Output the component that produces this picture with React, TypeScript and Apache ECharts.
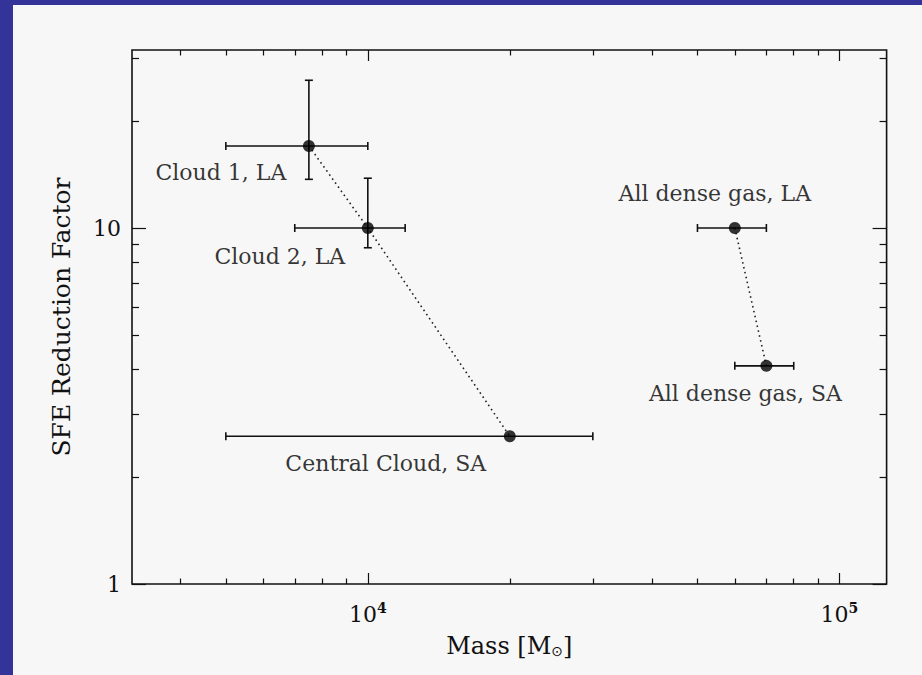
import React, { useEffect, useRef } from "react";
import * as echarts from "echarts";

// ---- data ----
const pointNames = [
  "Cloud 1, LA",
  "Cloud 2, LA",
  "Central Cloud, SA",
  "All dense gas, LA",
  "All dense gas, SA",
];
const massValues = [7500, 10000, 20000, 60000, 70000];
const sfeValues = [17, 10, 2.6, 10, 4.1];
const massLow = [5000, 7000, 5000, 50000, 60000];
const massHigh = [10000, 12000, 30000, 70000, 80000];
const sfeLow: (number | null)[] = [13.7, 8.8, null, null, null];
const sfeHigh: (number | null)[] = [26, 13.8, null, null, null];
const trackClouds = [0, 1, 2];
const trackDense = [3, 4];

const xMin = Math.pow(10, 3.5);
const xMax = Math.pow(10, 5.1);
const yMin = 1;
const yMax = Math.pow(10, 1.5);
const xMajorTicks = [1e4, 1e5];
const xMinorTicks = [4000, 5000, 6000, 7000, 8000, 9000, 20000, 30000, 40000, 50000, 60000, 70000, 80000, 90000];
const yMajorTicks = [1, 10];
const yMinorTicks = [2, 3, 4, 5, 6, 7, 8, 9, 20, 30];

// ---- styling (label placement relative to each point) ----
const labelOffsets = [
  [-88, 27],
  [-88, 28],
  [-124, 27],
  [-20, -35],
  [-21, 28],
];

const INK = "#111";
const FONT = "DejaVu Serif";

function xAxisDef(position: "top" | "bottom", ticks: number[], len: number, labels: boolean, name?: string) {
  return {
    type: "log",
    logBase: 10,
    min: xMin,
    max: xMax,
    position,
    gridIndex: 0,
    axisLine: { show: false },
    splitLine: { show: false },
    minorTick: { show: false },
    axisTick: { show: true, inside: true, length: len, customValues: ticks, lineStyle: { color: INK, width: 1.2 } },
    axisLabel: labels
      ? {
          show: true,
          customValues: ticks,
          margin: 17,
          color: INK,
          fontFamily: FONT,
          formatter: (v: number) => `{b|10}{sup|${Math.round(Math.log10(v))}}`,
          rich: {
            b: { fontSize: 22, fontFamily: FONT, color: INK, lineHeight: 24, verticalAlign: "bottom" },
            sup: { fontSize: 14, fontFamily: FONT, color: INK, lineHeight: 14, verticalAlign: "top", fontWeight: "bold" },
          },
        }
      : { show: false },
    name: name || "",
    nameLocation: "middle",
    nameGap: 50,
    nameTextStyle: {
      fontSize: 24,
      fontFamily: FONT,
      color: INK,
      rich: {
        sub: { fontSize: 14, fontFamily: "DejaVu Sans", color: INK, verticalAlign: "bottom", padding: [8, 0, 0, 0] },
      },
    },
  };
}

function yAxisDef(position: "left" | "right", ticks: number[], len: number, labels: boolean, name?: string) {
  return {
    type: "log",
    logBase: 10,
    min: yMin,
    max: yMax,
    position,
    gridIndex: 0,
    axisLine: { show: false },
    splitLine: { show: false },
    minorTick: { show: false },
    axisTick: { show: true, inside: true, length: len, customValues: ticks, lineStyle: { color: INK, width: 1.2 } },
    axisLabel: labels
      ? {
          show: true,
          customValues: ticks,
          margin: 11,
          color: INK,
          fontSize: 22,
          fontFamily: FONT,
          formatter: (v: number) => String(Math.round(v)),
        }
      : { show: false },
    name: name || "",
    nameLocation: "middle",
    nameRotate: 90,
    nameGap: 58,
    nameTextStyle: { fontSize: 25, fontFamily: FONT, color: INK },
  };
}

function buildOption() {
  const errData = massValues.map((m, i) => [
    m,
    sfeValues[i],
    massLow[i],
    massHigh[i],
    sfeLow[i] == null ? sfeValues[i] : sfeLow[i],
    sfeHigh[i] == null ? sfeValues[i] : sfeHigh[i],
  ]);

  const lineStyle = { stroke: INK, lineWidth: 1.6 };
  const cap = 4;

  return {
    animation: false,
    backgroundColor: "#F7F7F7",
    grid: {
      left: 119,
      top: 45,
      right: 35.4,
      bottom: 91,
      show: true,
      borderColor: INK,
      borderWidth: 1.6,
      backgroundColor: "transparent",
    },
    xAxis: [
      xAxisDef("bottom", xMajorTicks, 11, true, "Mass [M{sub|⊙}]"),
      xAxisDef("bottom", xMinorTicks, 5.5, false),
      xAxisDef("top", xMajorTicks, 11, false),
      xAxisDef("top", xMinorTicks, 5.5, false),
    ],
    yAxis: [
      yAxisDef("left", yMajorTicks, 14, true, "SFE Reduction Factor"),
      yAxisDef("left", yMinorTicks, 7, false),
      yAxisDef("right", yMajorTicks, 14, false),
      yAxisDef("right", yMinorTicks, 7, false),
    ],
    series: [
      {
        type: "line",
        xAxisIndex: 0,
        yAxisIndex: 0,
        data: trackClouds.map((i) => [massValues[i], sfeValues[i]]),
        symbol: "none",
        lineStyle: { color: "#222", width: 1.6, type: [1.6, 3.4] },
        z: 1,
        silent: true,
      },
      {
        type: "line",
        xAxisIndex: 0,
        yAxisIndex: 0,
        data: trackDense.map((i) => [massValues[i], sfeValues[i]]),
        symbol: "none",
        lineStyle: { color: "#222", width: 1.6, type: [1.6, 3.4] },
        z: 1,
        silent: true,
      },
      {
        type: "custom",
        xAxisIndex: 0,
        yAxisIndex: 0,
        data: errData,
        encode: { x: 0, y: 1 },
        z: 2,
        silent: true,
        renderItem: (params: any, api: any) => {
          const x = api.value(0);
          const y = api.value(1);
          const xl = api.value(2);
          const xh = api.value(3);
          const yl = api.value(4);
          const yh = api.value(5);
          const c = api.coord([x, y]);
          const l = api.coord([xl, y]);
          const r = api.coord([xh, y]);
          const children: any[] = [
            { type: "line", shape: { x1: l[0], y1: c[1], x2: r[0], y2: c[1] }, style: lineStyle },
            { type: "line", shape: { x1: l[0], y1: c[1] - cap, x2: l[0], y2: c[1] + cap }, style: lineStyle },
            { type: "line", shape: { x1: r[0], y1: c[1] - cap, x2: r[0], y2: c[1] + cap }, style: lineStyle },
          ];
          if (yl !== y || yh !== y) {
            const b = api.coord([x, yl]);
            const t = api.coord([x, yh]);
            children.push(
              { type: "line", shape: { x1: c[0], y1: b[1], x2: c[0], y2: t[1] }, style: lineStyle },
              { type: "line", shape: { x1: c[0] - cap, y1: b[1], x2: c[0] + cap, y2: b[1] }, style: lineStyle },
              { type: "line", shape: { x1: c[0] - cap, y1: t[1], x2: c[0] + cap, y2: t[1] }, style: lineStyle }
            );
          }
          return { type: "group", children };
        },
      },
      {
        type: "scatter",
        xAxisIndex: 0,
        yAxisIndex: 0,
        symbol: "circle",
        symbolSize: 12,
        itemStyle: { color: "#000" },
        z: 3,
        silent: true,
        data: massValues.map((m, i) => ({
          name: pointNames[i],
          value: [m, sfeValues[i]],
          label: { offset: labelOffsets[i] },
        })),
        label: {
          show: true,
          position: "inside",
          formatter: (p: any) => p.name,
          fontFamily: FONT,
          fontSize: 22,
          color: "#000",
          textBorderWidth: 0,
        },
      },
    ],
  };
}

export default function App() {
  const ref = useRef<HTMLDivElement>(null);
  useEffect(() => {
    if (!ref.current) return;
    const chart = echarts.init(ref.current, null, { renderer: "svg" });
    chart.setOption(buildOption() as any);
    return () => chart.dispose();
  }, []);
  return (
    <div style={{ position: "fixed", left: 0, top: 0, width: 922, height: 675, background: "#333399" }}>
      <div
        ref={ref}
        style={{ position: "absolute", left: 13, top: 5, width: 909, height: 670, background: "#F7F7F7" }}
      />
    </div>
  );
}
